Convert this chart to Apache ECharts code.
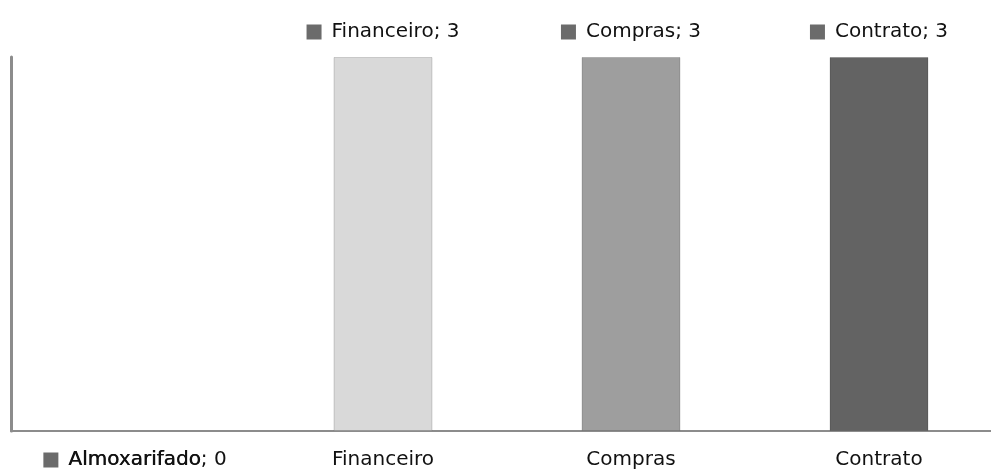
<!DOCTYPE html>
<html>
<head>
<meta charset="utf-8">
<script src="https://cdn.jsdelivr.net/npm/echarts@6/dist/echarts.min.js"></script>
<style>
html,body{margin:0;padding:0;background:#fff;overflow:hidden;width:991px;height:473px;}
#chart{width:1003px;height:473px;}
</style>
</head>
<body>
<div id="chart"></div>
<script>
var categories = ['Almoxarifado', 'Financeiro', 'Compras', 'Contrato'];
var values = [0, 3, 3, 3];
var barColors = ['#7f7f7f', '#d9d9d9', '#9e9e9e', '#636363'];
var yMax = 3;

var chart = echarts.init(document.getElementById('chart'));
var data = values.map(function (v, i) {
  var item = { value: v, itemStyle: { color: barColors[i] } };
  if (v === 0) {
    item.itemStyle.borderWidth = 0;
    item.label = { position: 'bottom', distance: 19 };
  }
  return item;
});
chart.setOption({
  animation: false,
  grid: { left: 11, top: 57, right: 0, bottom: 42, containLabel: false },
  xAxis: {
    type: 'category',
    data: categories,
    axisLine: { show: true, lineStyle: { color: '#8c8c8c', width: 2 } },
    axisTick: { show: false },
    axisLabel: { margin: 19, fontFamily: 'DejaVu Sans', fontSize: 20, color: '#111' },
    splitLine: { show: false }
  },
  yAxis: {
    type: 'value',
    min: 0,
    max: yMax,
    axisLine: { show: true, lineStyle: { color: '#8c8c8c', width: 3 } },
    axisTick: { show: false },
    axisLabel: { show: false },
    splitLine: { show: false }
  },
  series: [{
    type: 'bar',
    data: data,
    barWidth: 99,
    itemStyle: { borderColor: 'rgba(0,0,0,0.15)', borderWidth: 1 },
    label: {
      show: true,
      position: 'top',
      distance: 15,
      formatter: function (p) { return '{sq|}{t|' + p.name + '; ' + p.value + '}'; },
      rich: {
        sq: { width: 15, height: 15, backgroundColor: '#6b6b6b' },
        t: { fontFamily: 'DejaVu Sans', fontSize: 20, color: '#111', padding: [0, 0, 0, 10] }
      }
    }
  }]
});
</script>
</body>
</html>
